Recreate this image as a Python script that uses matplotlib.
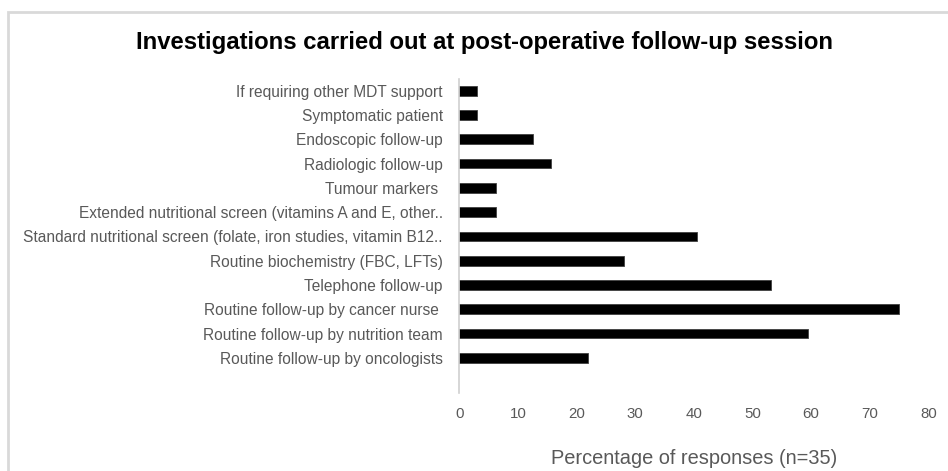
import matplotlib
matplotlib.use("Agg")
import matplotlib.pyplot as plt
from matplotlib.patches import Rectangle

plt.rcParams['font.family'] = ['Liberation Sans', 'DejaVu Sans']

categories = [
    "If requiring other MDT support",
    "Symptomatic patient",
    "Endoscopic follow-up",
    "Radiologic follow-up",
    "Tumour markers ",
    "Extended nutritional screen (vitamins A and E, other..",
    "Standard nutritional screen (folate, iron studies, vitamin B12..",
    "Routine biochemistry (FBC, LFTs)",
    "Telephone follow-up",
    "Routine follow-up by cancer nurse ",
    "Routine follow-up by nutrition team",
    "Routine follow-up by oncologists",
]
percentages = [3.1, 3.1, 12.5, 15.6, 6.3, 6.3, 40.6, 28.1, 53.1, 75.0, 59.4, 21.9]
x_ticks = [0, 10, 20, 30, 40, 50, 60, 70, 80]

title = "Investigations carried out at post-operative follow-up session"
x_label = "Percentage of responses (n=35)"

grey = "#595959"

fig = plt.figure(figsize=(9.48, 4.71), dpi=100)
fig.patch.set_facecolor("white")

# light frame around the chart area
fig.add_artist(Rectangle((7.5 / 948, -0.05), 1.0, 1 - 12 / 471 + 0.05,
                         transform=fig.transFigure, fill=False,
                         edgecolor="#d9d9d9", linewidth=2))

ax = fig.add_axes([459.3 / 948, 1 - 393 / 471, (928.3 - 459.3) / 948, (393 - 78.6) / 471])

y = list(range(len(categories)))
ax.barh(y, percentages, height=0.4, color="black", edgecolor="#404040", linewidth=0.6)

ax.set_ylim(12.45, -0.5)
ax.set_xlim(0, 80)
ax.set_yticks(y)
ax.set_yticklabels(categories, fontsize=11.2, color=grey)
ax.set_xticks(x_ticks)
ax.set_xticklabels([str(t) for t in x_ticks], fontsize=10.8, color=grey)

ax.tick_params(axis="y", length=0, pad=12)
ax.tick_params(axis="x", length=0, pad=10)

for side in ["top", "right", "bottom"]:
    ax.spines[side].set_visible(False)
ax.spines["left"].set_color("#d0d0d0")
ax.spines["left"].set_linewidth(1.2)

ax.set_xlabel(x_label, fontsize=14.4, color=grey, labelpad=20)

fig.text(484.5 / 948, 1 - 42 / 471, title, ha="center", va="center",
         fontsize=17.2, fontweight="bold", color="black")

fig.savefig("out.png", dpi=100)
